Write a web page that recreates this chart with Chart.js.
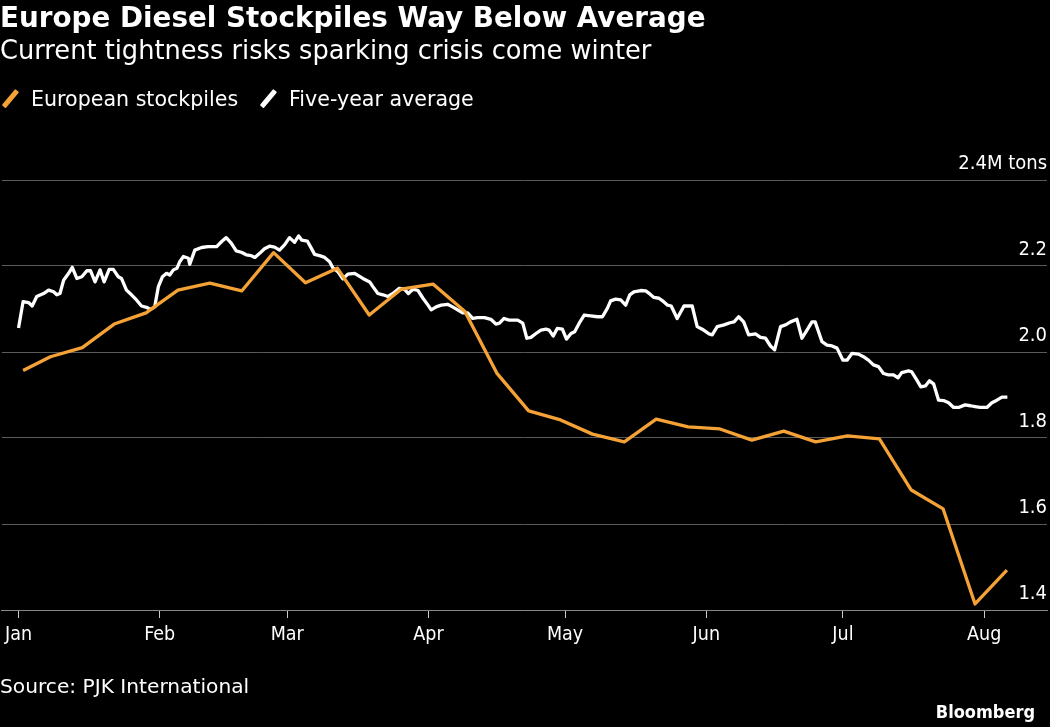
<!DOCTYPE html>
<html>
<head>
<meta charset="utf-8">
<script src="https://cdn.jsdelivr.net/npm/chart.js@4.4.0/dist/chart.umd.min.js"></script>
<style>
  html, body { margin: 0; padding: 0; background: #000; }
  body { width: 1050px; height: 727px; position: relative; overflow: hidden; font-family: "DejaVu Sans", sans-serif; color: #fff; }
  #chart { position: absolute; left: 0; top: 0; }
  .texto { position: absolute; white-space: nowrap; line-height: 1; }
  .titulo { left: 0; top: 4px; font-weight: bold; font-size: 27.8px; }
  .subtitulo { left: 0; top: 38px; font-size: 25.7px; }
  .legenda { top: 89px; font-size: 20.6px; }
  .barra { position: absolute; top: 88px; width: 4.5px; height: 21px; transform: rotate(40deg); border-radius: 1px; }
  .fonte { left: 0; top: 676px; font-size: 20.2px; }
  .logo { right: 15px; top: 703px; font-family: "DejaVu Sans Condensed", "DejaVu Sans", sans-serif; font-weight: bold; font-size: 18px; }
</style>
</head>
<body>
<canvas id="chart" width="1050" height="727"></canvas>
<div class="texto titulo">Europe Diesel Stockpiles Way Below Average</div>
<div class="texto subtitulo">Current tightness risks sparking crisis come winter</div>
<span class="barra" style="left:8px; background:#f4a236"></span>
<div class="texto legenda" style="left:31px">European stockpiles</div>
<span class="barra" style="left:266px; background:#ffffff"></span>
<div class="texto legenda" style="left:289px">Five-year average</div>
<div class="texto fonte">Source: PJK International</div>
<div class="texto logo">Bloomberg</div>
<script>
// Eixo x: dias desde 1 de janeiro
const inicioMeses = [0, 31, 59, 90, 120, 151, 181, 212];
const nomesMeses = ['Jan', 'Feb', 'Mar', 'Apr', 'May', 'Jun', 'Jul', 'Aug'];
const ticksY = [1.4, 1.6, 1.8, 2.0, 2.2, 2.4];

// Estoques europeus (semanal), milhões de toneladas
const diasEstoque = [1, 7, 14, 21, 28, 35, 42, 49, 56, 63, 70, 77, 84, 91, 98, 105,
    112, 119, 126, 133, 140, 147, 154, 161, 168, 175, 182, 189, 196, 203, 210, 217];
const estoqueEuropeu = [1.957, 1.989, 2.010, 2.065, 2.091, 2.144, 2.160, 2.142, 2.231, 2.161,
    2.195, 2.086, 2.146, 2.158, 2.094, 1.951, 1.863, 1.842, 1.809, 1.791, 1.844, 1.826,
    1.821, 1.795, 1.816, 1.791, 1.805, 1.798, 1.679, 1.635, 1.414, 1.493];

// Média de cinco anos
const diasMedia = [0, 1, 2.2, 3, 4, 5.5, 6.6, 7.7, 8.4, 9.1, 9.9, 11, 11.8, 12.8, 13.9, 15,
    15.8, 16.8, 17.9, 18.8, 19.9, 20.8, 21.9, 22.6, 23.7, 24.8, 25.9, 27, 28.1, 29, 29.9,
    30.7, 31.6, 32.5, 33.2, 34, 34.8, 35.4, 36.2, 37.3, 37.6, 38.7, 40.2, 41.6, 43.5, 44.6,
    45.6, 46.7, 47.8, 48.9, 50, 51.1, 51.9, 53, 54, 55.1, 56.2, 57.3, 58.4, 59.5, 60.6,
    61.5, 62.2, 63.4, 64.3, 65, 66.1, 67.2, 68.3, 69, 70.1, 71.2, 72.3, 73.8, 75.6, 77.1,
    77.8, 78.9, 80, 81.1, 82.2, 83.6, 84.7, 85.6, 86.6, 87.7, 88.8, 89.9, 90.6, 91.7, 92.8,
    94.2, 95.3, 96.4, 97.5, 98.6, 99.7, 100.8, 102.3, 103.7, 104.8, 105.6, 106.6, 107.7,
    109.6, 110.7, 111.6, 112.5, 113.6, 114.7, 115.8, 116.5, 117.4, 118.3, 119.4, 120.3,
    121.3, 122.1, 123.1, 124.2, 125.6, 127.1, 128.2, 129.3, 130, 131.1, 132.2, 133.3,
    134.2, 135.1, 136.6, 137.7, 138.6, 139.5, 140.6, 141.4, 142.5, 143.3, 144.6, 146.1,
    147.9, 149, 150.1, 151.6, 152.3, 153.4, 154.9, 156.2, 157.1, 158.1, 159.2, 160.3,
    161.8, 162.9, 164, 165.1, 166, 167.3, 168.4, 169.5, 170.9, 172, 173.1, 174.2, 174.9,
    176.4, 177.5, 178.6, 179.7, 181, 181.9, 183, 184.4, 185.5, 186.6, 187.7, 188.8, 189.9,
    191, 192.1, 193.1, 193.9, 195.4, 196.1, 197.2, 198.1, 199.1, 200, 200.9, 202, 203.1,
    204.2, 205.3, 206.4, 207.8, 209, 210, 211.1, 212.6, 213.7, 214.8, 215.9, 217.1];
const mediaCincoAnos = [2.056, 2.117, 2.115, 2.107, 2.129, 2.136, 2.144, 2.140, 2.133, 2.136,
    2.167, 2.183, 2.197, 2.171, 2.175, 2.189, 2.189, 2.163, 2.191, 2.163, 2.192, 2.192,
    2.175, 2.171, 2.144, 2.133, 2.121, 2.107, 2.104, 2.099, 2.105, 2.152, 2.175, 2.183,
    2.179, 2.191, 2.195, 2.210, 2.222, 2.218, 2.204, 2.237, 2.243, 2.245, 2.245, 2.257,
    2.266, 2.253, 2.235, 2.232, 2.226, 2.224, 2.220, 2.230, 2.240, 2.246, 2.244, 2.237,
    2.249, 2.266, 2.255, 2.270, 2.260, 2.258, 2.241, 2.227, 2.224, 2.220, 2.210, 2.196,
    2.187, 2.170, 2.181, 2.183, 2.171, 2.163, 2.152, 2.136, 2.133, 2.129, 2.136, 2.148,
    2.146, 2.136, 2.146, 2.143, 2.125, 2.109, 2.098, 2.105, 2.109, 2.111, 2.105, 2.098,
    2.091, 2.091, 2.078, 2.080, 2.080, 2.076, 2.065, 2.067, 2.078, 2.074, 2.074, 2.067,
    2.032, 2.034, 2.043, 2.051, 2.053, 2.051, 2.037, 2.055, 2.053, 2.030, 2.043, 2.047,
    2.067, 2.086, 2.084, 2.082, 2.082, 2.102, 2.119, 2.123, 2.121, 2.109, 2.133, 2.140,
    2.143, 2.142, 2.135, 2.127, 2.125, 2.119, 2.109, 2.107, 2.078, 2.107, 2.107, 2.059,
    2.053, 2.042, 2.040, 2.059, 2.063, 2.068, 2.070, 2.082, 2.070, 2.040, 2.042, 2.034,
    2.032, 2.014, 2.005, 2.059, 2.063, 2.070, 2.076, 2.032, 2.051, 2.070, 2.070, 2.024,
    2.016, 2.014, 2.009, 1.981, 1.981, 1.997, 1.995, 1.989, 1.981, 1.970, 1.966, 1.950,
    1.947, 1.947, 1.940, 1.952, 1.956, 1.954, 1.935, 1.919, 1.921, 1.933, 1.926, 1.888,
    1.887, 1.882, 1.871, 1.871, 1.877, 1.875, 1.873, 1.871, 1.871, 1.882, 1.888, 1.895,
    1.895];

function juntarPontos(dias, valores) {
    return dias.map((d, i) => ({ x: d, y: valores[i] }));
}

const fonteEixo = { family: '"DejaVu Sans Condensed", "DejaVu Sans"', size: 19.5 };

const ctx = document.getElementById('chart').getContext('2d');
new Chart(ctx, {
    type: 'line',
    data: {
        datasets: [{
            label: 'European stockpiles',
            data: juntarPontos(diasEstoque, estoqueEuropeu),
            borderColor: '#f4a236',
            borderWidth: 3.3,
            borderJoinStyle: 'round',
            pointRadius: 0,
            tension: 0
        }, {
            label: 'Five-year average',
            data: juntarPontos(diasMedia, mediaCincoAnos),
            borderColor: '#ffffff',
            borderWidth: 3.3,
            borderJoinStyle: 'round',
            pointRadius: 0,
            tension: 0
        }]
    },
    options: {
        responsive: false,
        animation: false,
        layout: { padding: { top: 180, right: 3, bottom: 77, left: 0 } },
        plugins: {
            legend: { display: false },
            tooltip: { enabled: false }
        },
        scales: {
            x: {
                type: 'linear',
                min: -3.66,
                max: 225.8,
                afterBuildTicks: scale => {
                    scale.ticks = inicioMeses.map(v => ({ value: v }));
                },
                afterFit: scale => { scale.height = 40; },
                ticks: {
                    color: '#ffffff',
                    font: fonteEixo,
                    padding: 5,
                    maxRotation: 0,
                    autoSkip: false,
                    callback: v => nomesMeses[inicioMeses.indexOf(v)]
                },
                grid: { drawOnChartArea: false, color: '#cccccc', tickLength: 8 },
                border: { color: '#888888' }
            },
            y: {
                position: 'right',
                min: 1.4,
                max: 2.4,
                afterBuildTicks: scale => {
                    scale.ticks = ticksY.map(v => ({ value: v }));
                },
                afterFit: scale => { scale.width = 0; },
                ticks: {
                    mirror: true,
                    padding: 0,
                    labelOffset: -16,
                    color: '#ffffff',
                    font: { family: '"DejaVu Sans Condensed", "DejaVu Sans"', size: 20 },
                    callback: v => v === 2.4 ? '2.4M tons' : v.toFixed(1)
                },
                grid: { color: '#5a5a5a', drawTicks: false },
                border: { display: false }
            }
        }
    }
});
</script>
</body>
</html>
